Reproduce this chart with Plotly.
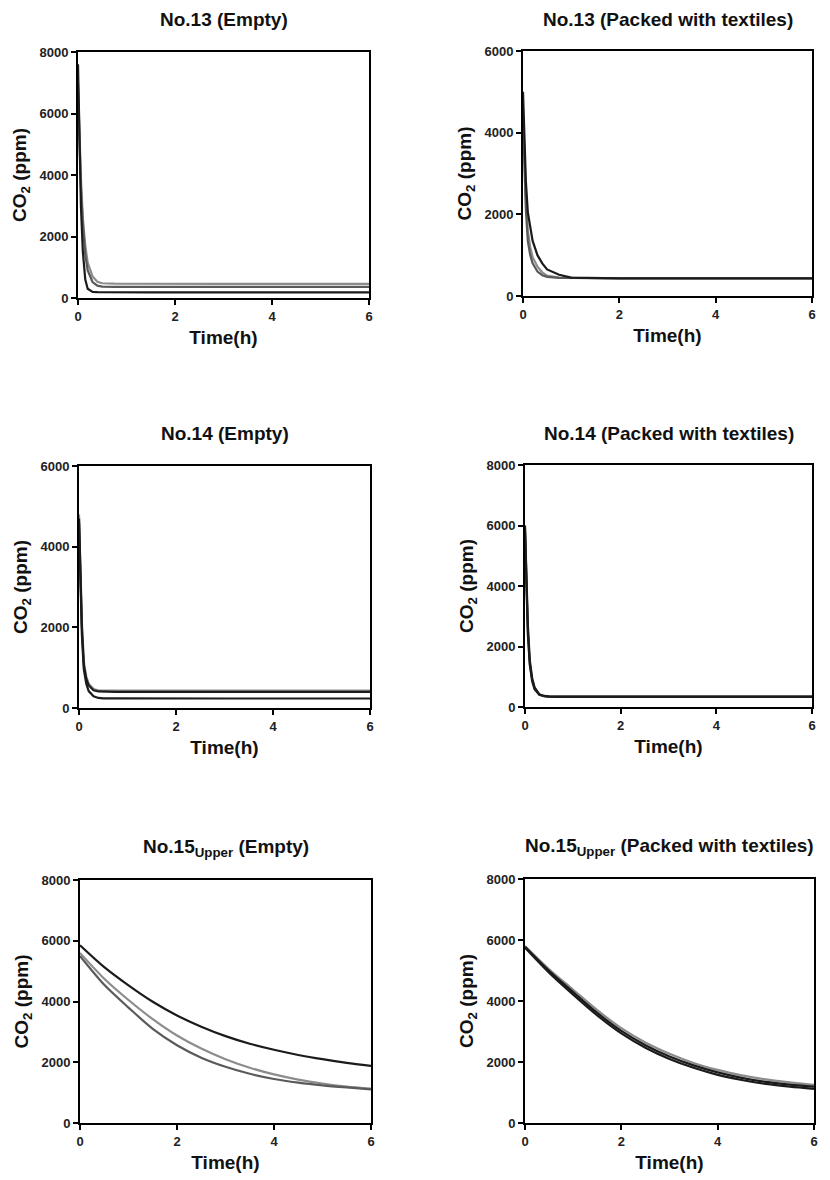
import plotly.graph_objects as go

# ---------------- data ----------------
T_FAST = [0, 0.03, 0.06, 0.1, 0.15, 0.2, 0.3, 0.4, 0.5, 0.75, 1, 1.5, 2, 3, 4, 5, 6]
T_SLOW = [0, 0.5, 1, 1.5, 2, 2.5, 3, 3.5, 4, 4.5, 5, 5.5, 6]

# No.13 (Empty)
n13e_gray1 = [7000, 5300, 3900, 2600, 1700, 1150, 700, 530, 480, 465, 462, 460, 460, 460, 460, 460, 460]
n13e_gray2 = [6800, 5000, 3600, 2400, 1400, 900, 520, 400, 370, 362, 360, 360, 360, 360, 360, 360, 360]
n13e_black = [7600, 5200, 3000, 1500, 600, 300, 200, 190, 188, 186, 185, 185, 185, 185, 185, 185, 185]

# No.13 (Packed with textiles)
n13p_gray1 = [4600, 3300, 2400, 1600, 1200, 950, 720, 580, 500, 450, 440, 435, 432, 430, 430, 430, 430]
n13p_gray2 = [4300, 3000, 2100, 1350, 1000, 800, 600, 510, 470, 445, 440, 437, 435, 435, 435, 435, 435]
n13p_black = [5000, 3800, 2800, 2050, 1650, 1350, 1000, 800, 650, 520, 450, 435, 432, 430, 430, 430, 430]

# No.14 (Empty)
n14e_gray = [4800, 3000, 2100, 1150, 780, 600, 470, 440, 435, 432, 430, 430, 430, 430, 430, 430, 430]
n14e_black1 = [4700, 2900, 2000, 1050, 720, 560, 440, 410, 402, 400, 400, 400, 400, 400, 400, 400, 400]
n14e_black2 = [4600, 2800, 1800, 950, 600, 420, 290, 250, 240, 237, 235, 235, 235, 235, 235, 235, 235]

# No.14 (Packed with textiles)
n14p_gray = [5900, 4100, 2500, 1450, 900, 620, 410, 360, 345, 340, 340, 340, 340, 340, 340, 340, 340]
n14p_black1 = [6000, 4300, 2700, 1550, 950, 650, 420, 365, 350, 345, 345, 345, 345, 345, 345, 345, 345]
n14p_black2 = [5800, 4000, 2400, 1400, 850, 590, 400, 355, 342, 338, 338, 338, 338, 338, 338, 338, 338]

# No.15 Upper (Empty)
n15e_black = [5850, 5130, 4530, 3990, 3540, 3170, 2860, 2610, 2410, 2240, 2100, 1980, 1880]
n15e_gray1 = [5600, 4750, 4050, 3420, 2880, 2450, 2100, 1820, 1600, 1430, 1300, 1200, 1130]
n15e_gray2 = [5500, 4550, 3800, 3100, 2560, 2150, 1850, 1620, 1450, 1330, 1240, 1170, 1110]

# No.15 Upper (Packed with textiles)
n15p_black1 = [5750, 4930, 4210, 3530, 2940, 2470, 2100, 1810, 1580, 1410, 1280, 1190, 1120]
n15p_gray = [5800, 5040, 4370, 3700, 3110, 2640, 2270, 1970, 1740, 1560, 1430, 1330, 1250]
n15p_black2 = [5780, 4990, 4290, 3610, 3020, 2550, 2180, 1890, 1660, 1480, 1350, 1260, 1190]

TITLES = ["No.13 (Empty)", "No.13 (Packed with textiles)",
          "No.14 (Empty)", "No.14 (Packed with textiles)",
          "No.15<sub>Upper</sub> (Empty)", "No.15<sub>Upper</sub> (Packed with textiles)"]
Y_MAX = [8000, 6000, 6000, 8000, 8000, 8000]
X_TICKS = [0, 2, 4, 6]

BLACK = "#1b1b1b"
GRAY = "#8c8c8c"
DGRAY = "#5a5a5a"

panels = [
    (T_FAST, [(n13e_gray1, GRAY), (n13e_gray2, DGRAY), (n13e_black, BLACK)], "linear"),
    (T_FAST, [(n13p_gray1, GRAY), (n13p_gray2, DGRAY), (n13p_black, BLACK)], "linear"),
    (T_FAST, [(n14e_gray, GRAY), (n14e_black1, BLACK), (n14e_black2, BLACK)], "linear"),
    (T_FAST, [(n14p_gray, GRAY), (n14p_black1, BLACK), (n14p_black2, BLACK)], "linear"),
    (T_SLOW, [(n15e_gray1, GRAY), (n15e_gray2, DGRAY), (n15e_black, BLACK)], "spline"),
    (T_SLOW, [(n15p_gray, GRAY), (n15p_black1, BLACK), (n15p_black2, BLACK)], "spline"),
]

# pixel boxes of each plot area: (left, right, top, bottom)
W, H = 830, 1180
BOXES = [(78, 369, 52, 298), (523, 812, 51, 296),
         (79, 370, 466, 708), (525, 812, 465, 707),
         (80, 371, 880, 1123), (525, 814, 879, 1123)]

fig = go.Figure()
FONT = "Liberation Sans, Arial, sans-serif"

for i, ((t, series, shape), box) in enumerate(zip(panels, BOXES)):
    n = i + 1
    xa = "x" if n == 1 else f"x{n}"
    ya = "y" if n == 1 else f"y{n}"
    for vals, col in series:
        fig.add_trace(go.Scatter(x=t, y=vals, mode="lines", xaxis=xa, yaxis=ya,
                                 line=dict(color=col, width=2.2, shape=shape, smoothing=0.8),
                                 showlegend=False, hoverinfo="skip"))
    l, r, tp, b = box
    ax_common = dict(showline=True, mirror=True, linecolor="black", linewidth=2,
                     ticks="outside", ticklen=5, tickwidth=2, tickcolor="black",
                     showgrid=False, zeroline=False, automargin=False,
                     tickfont=dict(family=FONT, size=13, color="#222", weight="bold"))
    xkey = "xaxis" if n == 1 else f"xaxis{n}"
    ykey = "yaxis" if n == 1 else f"yaxis{n}"
    fig.layout[xkey] = dict(domain=[l / W, r / W], range=[0, 6], tickvals=X_TICKS,
                            anchor=ya, **ax_common,
                            title=dict(text="Time(h)", standoff=8,
                                       font=dict(family=FONT, size=19, color="#111", weight="bold")))
    ymax = Y_MAX[i]
    fig.layout[ykey] = dict(domain=[1 - b / H, 1 - tp / H], range=[0, ymax],
                            tickvals=list(range(0, ymax + 1, 2000)),
                            anchor=xa, **ax_common,
                            title=dict(text="CO<sub>2</sub> (ppm)", standoff=8,
                                       font=dict(family=FONT, size=19, color="#111", weight="bold")))
    # panel title
    fig.add_annotation(text=TITLES[i], xref="paper", yref="paper",
                       x=((l + r) / 2) / W,
                       y=1 - (tp - 32) / H, xanchor="center", yanchor="middle",
                       showarrow=False,
                       font=dict(family=FONT, size=19, color="#111", weight="bold"))

fig.update_layout(width=W, height=H, margin=dict(l=0, r=0, t=0, b=0, autoexpand=False),
                  paper_bgcolor="white", plot_bgcolor="white")

fig.write_html("out.html", config={"displayModeBar": False},
               post_script="document.body.style.margin='0';document.body.style.overflow='hidden';")
